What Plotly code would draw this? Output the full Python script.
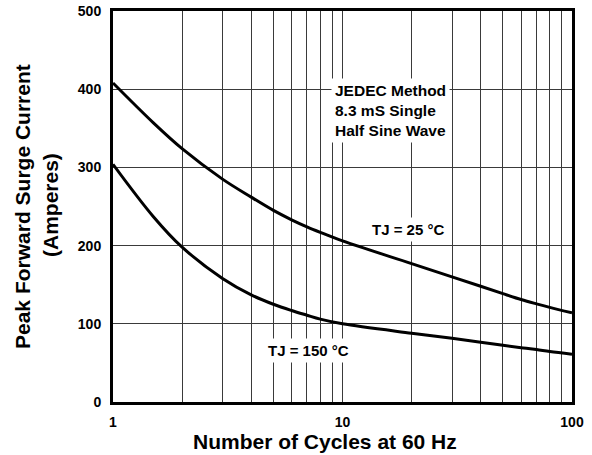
import plotly.graph_objects as go

cycles = [1, 1.5, 2, 3, 4, 5, 6, 7, 8, 10, 20, 30, 40, 50, 60, 70, 80, 100]
surge_25c = [408, 357, 324, 285, 262, 245, 233, 224, 217, 206, 177, 160, 148, 138.5, 131, 125.5, 121, 114]
surge_150c = [304, 237, 198, 158, 137, 125, 117, 111, 106, 100, 88, 81.5, 76.5, 72.5, 69.5, 67, 64.5, 61]

x_grid_vals = [1, 2, 3, 4, 5, 6, 7, 8, 9, 10, 20, 30, 40, 50, 60, 70, 80, 90, 100]
x_tick_text = ["1", "", "", "", "", "", "", "", "", "10", "", "", "", "", "", "", "", "", "100"]
y_tick_vals = [0, 100, 200, 300, 400, 500]

FONT = "Liberation Sans, Arial, sans-serif"

fig = go.Figure()
for ys in (surge_25c, surge_150c):
    fig.add_trace(go.Scatter(x=cycles, y=ys, mode="lines",
                             line=dict(color="black", width=3, shape="spline", smoothing=1.0),
                             showlegend=False, hoverinfo="skip"))

fig.update_layout(
    width=592, height=455,
    margin=dict(l=113, r=20, t=11, b=53, autoexpand=False),
    paper_bgcolor="white", plot_bgcolor="white",
    font=dict(family=FONT, color="black"),
    xaxis=dict(type="log", range=[0, 2], tickvals=x_grid_vals, ticktext=x_tick_text,
               showgrid=True, gridcolor="#3a3a3a", gridwidth=1,
               showline=True, linecolor="black", linewidth=3, mirror=True,
               ticks="", ticklabelstandoff=5, zeroline=False, automargin=False,
               tickfont=dict(family=FONT, size=14, color="black", weight="bold")),
    yaxis=dict(range=[0, 500], tickvals=y_tick_vals,
               showgrid=True, gridcolor="#3a3a3a", gridwidth=1,
               showline=True, linecolor="black", linewidth=3, mirror=True,
               ticks="", ticklabelstandoff=6, zeroline=False, automargin=False,
               tickfont=dict(family=FONT, size=14, color="black", weight="bold")),
)

def px(xp):
    return (xp - 113) / 459.0

def py(yp):
    return (402 - yp) / 391.0

ann_font = dict(family=FONT, size=15.5, color="black", weight="bold")
fig.add_annotation(x=px(331), y=py(111), xref="paper", yref="paper",
                   text="JEDEC Method<br>8.3 mS Single<br>Half Sine Wave",
                   showarrow=False, xanchor="left", yanchor="middle", align="left",
                   bgcolor="white", borderpad=3, font=ann_font)
fig.add_annotation(x=px(407.5), y=py(229), xref="paper", yref="paper",
                   text="TJ = 25 °C", showarrow=False, xanchor="center", yanchor="middle",
                   bgcolor="white", borderpad=3, font=dict(family=FONT, size=15, color="black", weight="bold"))
fig.add_annotation(x=px(308.5), y=py(350), xref="paper", yref="paper",
                   text="TJ = 150 °C", showarrow=False, xanchor="center", yanchor="middle",
                   bgcolor="white", borderpad=3, font=dict(family=FONT, size=15, color="black", weight="bold"))

title_font = dict(family=FONT, size=21, color="black", weight="bold")
fig.add_annotation(x=px(325), y=py(441), xref="paper", yref="paper",
                   text="Number of Cycles at 60 Hz", showarrow=False,
                   xanchor="center", yanchor="middle", font=title_font)
fig.add_annotation(x=px(22), y=py(207), xref="paper", yref="paper",
                   text="Peak Forward Surge Current", showarrow=False, textangle=-90,
                   xanchor="center", yanchor="middle", font=title_font)
fig.add_annotation(x=px(50), y=py(205), xref="paper", yref="paper",
                   text="(Amperes)", showarrow=False, textangle=-90,
                   xanchor="center", yanchor="middle", font=title_font)

fig.write_html("out.html", config={"displayModeBar": False},
               post_script="document.body.style.margin='0';document.body.style.padding='0';")
